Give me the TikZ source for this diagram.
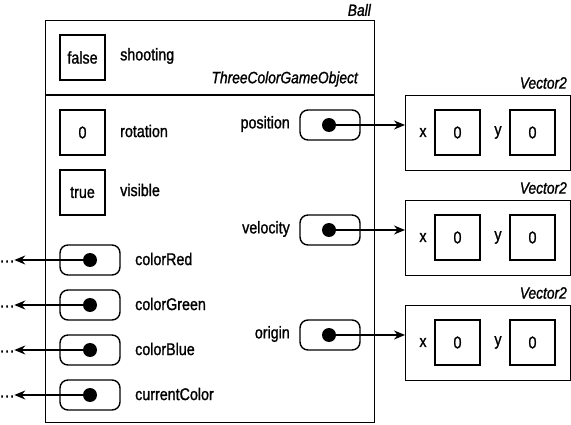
\documentclass[tikz,border=0pt]{standalone}
\usepackage{fontspec}
\setmainfont{Liberation Sans}[FakeStretch=0.84,FakeBold=1.2]
\usetikzlibrary{arrows.meta}
\begin{document}
\begin{tikzpicture}[x=1pt,y=-1pt,
  every node/.style={font=\fontsize{17}{19}\selectfont, inner sep=0pt},
  frame/.style={draw, line width=1.4pt},
  valbox/.style={frame, minimum width=45pt, minimum height=45pt},
  pill/.style={frame, rounded corners=8pt, minimum width=60pt, minimum height=30pt},
  refdot/.style={circle, fill, minimum size=14pt},
  lbl/.style={anchor=west},
  rlbl/.style={anchor=east},
  title/.style={anchor=east, font=\fontsize{16.4}{19}\selectfont\itshape},
  arr/.style={line width=1.4pt, -{Stealth[length=11pt,width=9pt]}}
]
\useasboundingbox (0,0) rectangle (571,425);
% Ball object
\node[frame, anchor=north west, minimum width=329pt, minimum height=402pt] (ball) at (45,20) {};
\node[title] (balltitle) at (371,10) {Ball};
\draw[line width=1.4pt] (ball.west |- 0,95) coordinate (divL) -- (ball.east |- 0,95) coordinate (divR);
\node[title] (tcgo) at (358,79) {ThreeColorGameObject};
% value fields
\node[valbox] (shootv) at (82.5,57.5) {false};
\node[lbl] (shoot) at (120,56) {shooting};
\node[valbox] (rotv) at (82.5,132.5) {0};
\node[lbl] (rot) at (120,131) {rotation};
\node[valbox] (visv) at (82.5,192.5) {true};
\node[lbl] (vis) at (120,190) {visible};
% reference fields right
\node[pill] (posp) at (330,125) {};
\node[refdot] (posd) at (329,125) {};
\node[rlbl] (pos) at (290,124) {position};
\node[pill] (velp) at (330,230) {};
\node[refdot] (veld) at (329,230) {};
\node[rlbl] (vel) at (290,229) {velocity};
\node[pill] (orip) at (330,335) {};
\node[refdot] (orid) at (329,335) {};
\node[rlbl] (ori) at (290,334) {origin};
% reference fields left
\foreach \n/\yy/\t in {red/260/colorRed, green/305/colorGreen, blue/350/colorBlue, cur/395/currentColor}{
  \node[pill] (\n p) at (90,\yy) {};
  \node[refdot] (\n d) at (90,\yy) {};
  \node[lbl] (\n l) at (135,\yy-1) {\t};
  \node[anchor=west] (\n x) at (0,\yy+1.5) {.\kern1pt.\kern1pt.};
  \draw[arr] (\n d.center) -- (\n x.east |- \n d);
}
% Vector2 objects
\foreach \v/\top/\dot in {1/95/posd, 2/200/veld, 3/305/orid}{
  \node[frame, anchor=north west, minimum width=165pt, minimum height=75pt] (vec\v) at (405,\top) {};
  \node[title] (vt\v) at (567,\top-12) {Vector2};
  \node[valbox] (vx\v) at (457.5,\top+37.5) {0};
  \node[valbox] (vy\v) at (532.5,\top+37.5) {0};
  \node (xl\v) at (423,\top+37.5) {x};
  \node (yl\v) at (498,\top+37.5) {y};
  \draw[arr] (\dot.center) -- (\dot -| vec\v.west);
}
\end{tikzpicture}
\end{document}
